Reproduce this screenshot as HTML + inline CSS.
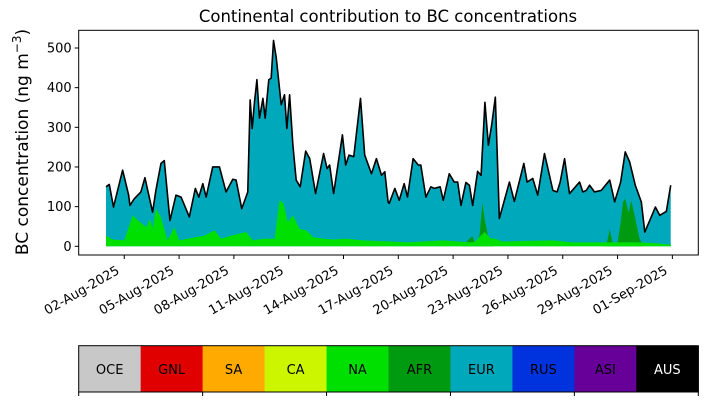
<!DOCTYPE html>
<html><head><meta charset="utf-8"><style>
body{margin:0;background:#fff;width:707px;height:402px;overflow:hidden}
svg text{font-family:"DejaVu Sans","Liberation Sans",sans-serif;}
</style></head><body>
<svg id="chart" width="707" height="402" viewBox="0 0 707 402" xmlns="http://www.w3.org/2000/svg"></svg>
<script>
// total BC concentration (days since 01-Aug-2025 00:00, ng m-3)
const totalDays=[0.0,0.18,0.41,0.91,1.24,1.31,1.55,1.91,2.13,2.55,2.73,3.01,3.19,3.50,3.83,4.11,4.56,4.89,5.08,5.30,5.48,5.84,6.21,6.57,6.94,7.12,7.43,7.76,7.89,8.00,8.13,8.26,8.40,8.59,8.71,8.91,9.04,9.17,9.32,9.59,9.77,9.90,10.05,10.23,10.41,10.63,10.93,11.15,11.47,11.91,12.10,12.24,12.46,12.94,13.12,13.30,13.56,13.93,14.16,14.53,14.80,15.08,15.26,15.44,15.50,15.81,16.05,16.32,16.50,16.81,17.09,17.23,17.51,17.78,17.97,18.29,18.46,18.79,19.06,19.25,19.43,19.70,19.89,20.07,20.34,20.53,20.74,20.93,21.11,21.31,21.53,22.08,22.35,22.87,23.05,23.36,23.63,24.00,24.46,24.69,24.86,25.10,25.37,25.92,26.10,26.29,26.47,26.74,27.11,27.57,27.84,28.17,28.42,28.66,28.97,29.30,29.49,29.76,30.07,30.31,30.67,30.91];
const totalVals=[150,156,99,192,129,103,120,137,173,86,141,209,216,65,129,124,74,146,124,158,124,200,200,137,169,167,95,137,369,297,365,420,323,373,323,420,424,519,475,357,382,297,382,255,167,150,240,221,133,234,196,205,133,281,205,230,226,373,230,183,221,179,188,112,108,146,116,158,124,221,205,205,124,150,146,150,116,183,162,162,103,161,154,103,189,179,363,255,306,376,70,162,113,209,162,171,129,234,141,137,162,221,133,162,137,141,154,137,141,167,112,162,238,213,154,112,36,65,99,78,88,154];
// NA contribution
const naDays=[0.0,0.34,1.0,1.46,1.75,2.2,2.4,2.55,2.73,3.0,3.19,3.37,3.74,4.01,4.93,5.39,5.94,6.3,6.85,7.67,8.04,8.59,9.23,9.5,9.72,9.95,10.23,10.6,10.96,11.33,11.88,12.43,13.16,14.07,15.53,16.5,18.46,19.9,20.0,20.2,20.72,21.05,21.3,21.7,24.46,25.5,27.0,29.0,30.0,30.93];
const naVals=[27,17,15,78,65,48,69,45,95,74,44,15,48,15,23,27,40,19,27,36,15,19,19,116,108,61,78,44,40,23,19,17,19,15,12,10,15,10,10,12,36,20,19,12,15,10,10,10,8,4];
// AFR contribution (stacked on NA)
const afrDays=[19.5,19.75,20.05,20.2,20.3,20.45,20.6,20.72,20.95,21.2,27.2,27.4,27.57,27.75,28.0,28.17,28.3,28.42,28.6,28.75,28.97,29.2,29.4];
const afrVals=[0,12,26,8,5,30,110,70,15,0,0,5,43,5,10,60,112,120,85,116,70,20,0];
const yTicks=[0,100,200,300,400,500];
const xTickDays=[1,4,7,10,13,16,19,22,25,28,31];
const xTickLabels=["02-Aug-2025","05-Aug-2025","08-Aug-2025","11-Aug-2025","14-Aug-2025","17-Aug-2025","20-Aug-2025","23-Aug-2025","26-Aug-2025","29-Aug-2025","01-Sep-2025"];
const regions=["OCE","GNL","SA","CA","NA","AFR","EUR","RUS","ASI","AUS"];
const regionColors=["#c8c8c8","#e00000","#ffaa00","#ccf500","#00e000","#009a10","#00a8bc","#0033dd","#660099","#000000"];

const NS="http://www.w3.org/2000/svg";
const svg=document.getElementById('chart');
const L=78.7,R=698.3,T=30.3,B=255;
const xs=d=>106+d*18.27;
const ys=v=>246.3-v*0.3966;
function el(tag,attrs,parent){const e=document.createElementNS(NS,tag);for(const k in attrs)e.setAttribute(k,attrs[k]);(parent||svg).appendChild(e);return e;}
function area(days,vals){const n=Math.min(days.length,vals.length);let p=`M${xs(days[0])},${ys(0)}`;for(let i=0;i<n;i++)p+=`L${xs(days[i])},${ys(vals[i])}`;p+=`L${xs(days[n-1])},${ys(0)}Z`;return p;}

const eur=el('path',{d:area(totalDays,totalVals),fill:'#00a8bc'});


const afr=el('path',{d:area(afrDays,afrVals),fill:'#009a10'});


const na=el('path',{d:area(naDays,naVals),fill:'#00e000'});


let lp='';const nt=Math.min(totalDays.length,totalVals.length);for(let i=0;i<nt;i++)lp+=(i?'L':'M')+xs(totalDays[i])+','+ys(totalVals[i]);
const line=el('path',{d:lp,fill:'none',stroke:'#000','stroke-width':1.6,'stroke-linejoin':'round'});



const frame=el('rect',{x:L,y:T,width:R-L,height:B-T,fill:'none',stroke:'#000','stroke-width':1});



yTicks.forEach(v=>{
  const y=ys(v);
  el('line',{x1:L-4,x2:L,y1:y,y2:y,stroke:'#000'});
  const t=el('text',{x:L-7,y:y+4.5,'text-anchor':'end','font-size':13});
  t.textContent=v;
  
  
});
xTickDays.forEach((d,i)=>{
  const x=xs(d);
  el('line',{x1:x,x2:x,y1:B,y2:B+4,stroke:'#000'});
  const ax=x-4, ay=B+18;
  const t=el('text',{x:ax,y:ay,'text-anchor':'end','font-size':13,transform:`rotate(-30 ${ax} ${ay})`});
  t.textContent=xTickLabels[i];
  
  
});

const title=el('text',{x:388,y:22,'text-anchor':'middle','font-size':16.5});
title.textContent='Continental contribution to BC concentrations';


const yl=el('text',{x:28,y:142,'text-anchor':'middle','font-size':17,transform:'rotate(-90 28 142)'});
yl.innerHTML='BC concentration (ng m<tspan dy="-7" font-size="12">−3</tspan><tspan dy="7">)</tspan>';



// colorbar legend
const cw=(R-L)/regions.length, cy=345.7, ch=46.3;
regions.forEach((r,i)=>{
  const c=el('rect',{x:L+i*cw,y:cy,width:cw+0.5,height:ch,fill:regionColors[i]});
  
  
  const t=el('text',{x:L+(i+0.5)*cw,y:cy+ch/2+5,'text-anchor':'middle','font-size':13,fill:r==='AUS'?'#fff':'#000'});
  t.textContent=r;
  
  
});
el('rect',{x:L,y:cy,width:R-L,height:ch,fill:'none',stroke:'#000'});
for(let i=0;i<=regions.length;i+=2){const x=L+i*cw;el('line',{x1:x,x2:x,y1:cy+ch,y2:cy+ch+4,stroke:'#000'});}
</script>
</body></html>
